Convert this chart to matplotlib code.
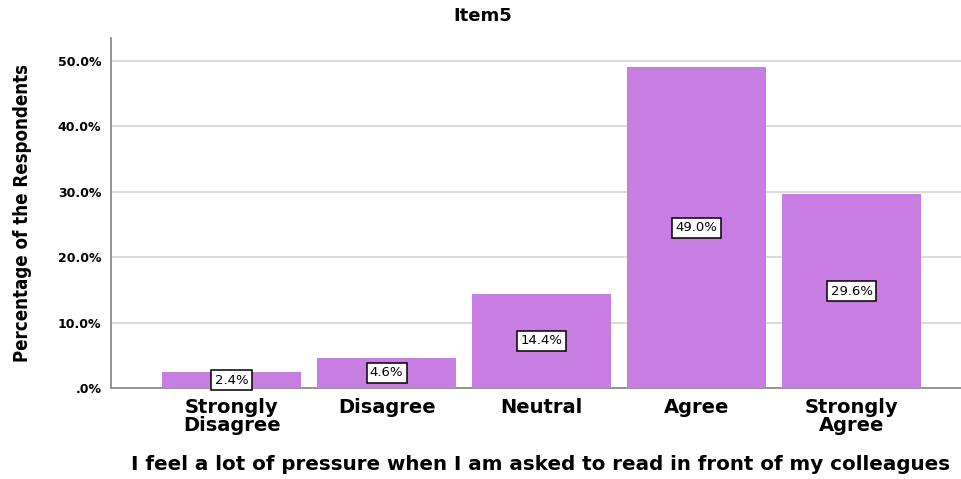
import matplotlib
matplotlib.use("Agg")
import matplotlib.pyplot as plt

categories = ["Strongly\nDisagree", "Disagree", "Neutral", "Agree", "Strongly\nAgree"]
percentages = [2.4, 4.6, 14.4, 49.0, 29.6]
y_ticks = [0, 10, 20, 30, 40, 50]
y_tick_labels = [".0%", "10.0%", "20.0%", "30.0%", "40.0%", "50.0%"]

plt.rcParams["font.family"] = ["DejaVu Sans"]

fig = plt.figure(figsize=(9.61, 4.79), dpi=100)
ax = fig.add_axes([111 / 961, 1 - 388 / 479, (961 - 111) / 961, (388 - 38) / 479])

bar_color = "#C87DE3"
x = list(range(len(categories)))
ax.bar(x, percentages, width=0.897, color=bar_color, zorder=3)

for xi, v in zip(x, percentages):
    ax.text(xi, v / 2, f"{v:.1f}%", ha="center", va="center", fontsize=9.5,
            zorder=4,
            bbox=dict(boxstyle="square,pad=0.25", facecolor="white",
                      edgecolor="black", linewidth=1.1))

ax.set_xlim(-0.778, 4.706)
ax.set_ylim(0, 53.5)
ax.set_yticks(y_ticks)
ax.set_yticklabels(y_tick_labels, fontsize=9, fontweight="bold")
ax.set_xticks(x)
ax.set_xticklabels(categories, fontsize=14, fontweight="bold", linespacing=0.92)
ax.tick_params(axis="both", length=0)
ax.tick_params(axis="y", pad=7)
ax.tick_params(axis="x", pad=7)

ax.grid(axis="y", color="#d4d4d4", linewidth=1.2, zorder=0)
ax.set_axisbelow(True)
for side in ("top", "right"):
    ax.spines[side].set_visible(False)
ax.spines["left"].set_color("#8c8c8c")
ax.spines["left"].set_linewidth(1.3)
ax.spines["bottom"].set_color("#8c8c8c")
ax.spines["bottom"].set_linewidth(1.3)

ax.set_xlabel("I feel a lot of pressure when I am asked to read in front of my colleagues",
              fontsize=14.35, fontweight="bold")
ax.xaxis.set_label_coords((541 - 111) / 850, -(465 - 388) / 350)
ax.xaxis.label.set_va("center")

ax.set_ylabel("Percentage of the Respondents", fontsize=13.4, fontweight="bold",
              fontstretch="condensed")
ax.yaxis.set_label_coords((23 - 111) / 850, 0.5)
ax.yaxis.label.set_va("center")

fig.text(483 / 961, 1 - 16 / 479, "Item5", ha="center", va="center",
         fontsize=13, fontweight="bold")

fig.savefig("out.png", dpi=100, facecolor="white")
